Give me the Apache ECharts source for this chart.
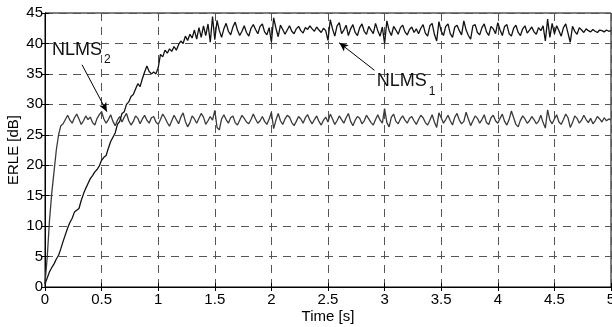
<!DOCTYPE html>
<html><head><meta charset="utf-8">
<script src="https://cdn.jsdelivr.net/npm/echarts@6/dist/echarts.min.js"></script>
<style>html,body{margin:0;padding:0;background:#fff}#c{width:612px;height:327px}</style>
</head><body><div id="c"></div>
<script>
// sampling step of both curves (seconds)
const dt = 0.02;
const xTicks = [0, 0.5, 1, 1.5, 2, 2.5, 3, 3.5, 4, 4.5, 5];
const yTicks = [0, 5, 10, 15, 20, 25, 30, 35, 40, 45];

// NLMS1 ERLE [dB], t = 0 .. 1.50
const nlms1Ramp = [0.5,1.5,2.5,3.2,3.8,4.6,5.2,6.3,7.5,8.6,
  9.7,10.6,11.3,12.3,12.6,12.9,14.2,15.3,16.2,17.0,
  17.8,18.3,18.9,19.3,19.9,20.8,21.3,21.6,22.8,23.9,
  24.6,25.3,26.7,27.2,28.5,28.8,30.0,30.4,31.3,31.6,
  32.5,33.4,32.9,34.2,35.3,36.3,35.4,35.0,35.3,35.0,
  36.0,38.2,37.8,38.9,38.4,39.1,38.7,39.5,38.9,39.8,
  40.4,40.0,41.2,40.5,41.5,40.9,42.2,40.7,42.6,41.0,
  42.9,41.3,43.2,40.2,44.4,40.6];
// NLMS1 ERLE [dB], t = 1.52 .. 5.00
const nlms1Steady = [
  43.8,42.1,41.0,42.4,43.3,42.0,41.4,42.7,43.5,42.2,41.3,42.0,42.9,41.8,41.2,42.5,43.1,42.3,41.6,42.8,43.2,41.9,41.4,42.6,
  40.2,44.2,42.5,41.1,43.0,42.3,41.5,42.2,42.9,42.0,41.6,42.4,42.8,42.1,41.7,42.6,42.3,42.9,42.4,42.0,42.7,42.2,41.8,42.5,42.1,
  40.5,43.9,42.4,41.2,42.9,43.4,41.6,42.2,43.0,41.3,42.4,43.1,41.8,41.3,42.6,43.2,42.0,41.5,42.8,42.2,41.6,43.3,42.1,41.2,42.7,
  40.0,43.7,42.1,41.3,42.8,42.2,41.5,42.6,43.0,41.9,41.4,42.3,42.7,41.8,42.4,41.6,42.5,43.1,41.7,41.2,42.9,43.3,41.5,40.4,43.6,
  42.0,41.3,42.8,43.2,41.6,41.0,42.7,43.0,42.1,41.4,43.7,42.2,41.3,40.7,42.9,43.1,41.8,41.4,42.6,43.2,41.9,41.3,42.8,42.4,41.6,
  43.4,42.2,41.3,42.8,43.1,41.6,41.2,42.5,43.0,41.8,41.3,42.4,42.9,41.7,42.2,42.7,41.9,41.5,42.6,42.1,42.9,40.4,44.0,41.0,43.3,
  41.6,42.9,42.1,41.2,42.6,43.2,41.7,40.2,42.8,42.0,41.5,42.6,42.2,41.8,42.4,42.1,41.9,42.3,42.0,41.8,42.2,42.1,41.9,42.2,42.0,42.1];

// NLMS2 ERLE [dB], t = 0 .. 0.14
const nlms2Ramp = [0.5,5.0,11.0,15.5,19.0,22.5,25.0,26.5];
// NLMS2 ERLE [dB], t = 0.16 .. 5.00
const nlms2Steady = [
  26.8,27.5,28.2,27.4,26.9,27.8,28.4,27.6,26.7,27.3,28.1,27.5,27.9,27.0,26.6,27.7,28.3,
  28.8,27.6,26.9,27.5,28.3,27.2,26.5,27.4,28.0,27.1,27.9,28.5,27.3,26.6,27.2,28.1,27.7,26.8,27.6,28.2,27.4,26.9,27.8,28.0,27.1,
  26.7,27.5,28.4,27.8,27.0,26.4,27.3,28.2,27.5,26.8,27.9,28.6,27.2,26.3,27.0,28.1,27.6,26.9,27.7,28.5,27.9,26.7,27.3,28.0,27.4,
  29.0,26.2,25.8,27.6,28.3,27.5,26.9,27.8,28.1,27.0,26.6,27.4,28.2,27.7,27.1,26.8,27.5,28.4,27.6,26.9,27.3,28.0,27.2,26.7,27.6,
  28.7,26.0,27.4,28.5,27.3,26.7,27.6,28.2,27.9,27.0,26.5,27.2,28.0,27.6,26.9,27.8,28.3,27.4,26.8,27.5,28.1,27.2,26.6,27.4,27.9,
  27.1,28.4,27.6,26.7,27.3,28.1,27.5,26.9,27.8,28.5,27.2,26.5,27.4,28.0,27.7,26.8,27.3,28.2,27.6,27.0,26.6,27.5,28.3,27.4,26.9,
  29.3,27.0,26.3,27.9,28.4,27.2,26.8,27.6,28.1,27.4,26.9,27.7,28.0,27.3,26.7,27.5,28.2,27.8,27.0,26.6,27.4,28.3,27.1,26.2,28.6,
  27.8,26.9,27.5,28.2,27.3,26.6,27.9,28.5,27.4,26.8,27.2,28.7,27.6,26.5,27.3,28.1,27.7,26.9,27.5,28.3,27.0,26.7,27.8,28.2,27.3,
  26.9,27.7,28.4,27.2,26.6,27.5,28.9,27.8,26.7,26.3,27.4,28.1,27.6,26.9,27.3,28.0,27.5,26.8,27.2,28.2,27.0,26.1,29.1,27.4,26.8,
  27.6,28.3,27.1,26.7,27.5,28.4,27.8,26.2,27.0,28.1,27.7,26.9,27.4,28.2,27.5,27.0,27.7,26.8,27.3,28.0,27.6,27.1,27.8,27.3,27.6,27.4];

// annotation anchor points in data units [t, dB]
const label2At = [0.062, 37.5], arrow2 = [[0.327, 36.5], [0.547, 28.8]];
const label1At = [2.93, 32.3], arrow1 = [[2.91, 35.6], [2.60, 40.1]];

function toPairs(vals) { return vals.map((v, i) => [+(i * dt).toFixed(2), v]); }
const s1 = toPairs(nlms1Ramp.concat(nlms1Steady));
const s2 = toPairs(nlms2Ramp.concat(nlms2Steady));

const FONT = 'Liberation Sans, Arial, Helvetica, sans-serif';
const chart = echarts.init(document.getElementById('c'), null, {renderer: 'canvas'});
const gridDash = {color: '#555', type: [8, 6], width: 1};
const baseX = {type: 'value', min: 0, max: 5, interval: 0.5};
const baseY = {type: 'value', min: 0, max: 45, interval: 5};

function arrowLine(a) {
  return [{coord: a[0], symbol: 'none'}, {coord: a[1], symbol: 'arrow', symbolSize: [6, 9]}];
}

chart.setOption({
  animation: false,
  backgroundColor: '#fff',
  grid: {left: 45, right: 1, top: 13, bottom: 40, containLabel: false, outerBoundsMode: 'none',
    show: true, borderColor: '#000', borderWidth: 1},
  xAxis: [
    Object.assign({}, baseX, {
      position: 'bottom',
      name: 'Time [s]', nameLocation: 'middle', nameGap: 22, nameMoveOverlap: false,
      nameTextStyle: {fontFamily: FONT, fontSize: 15, color: '#000'},
      axisLine: {lineStyle: {color: '#000'}},
      axisTick: {inside: true, length: 4, lineStyle: {color: '#000'}},
      axisLabel: {fontFamily: FONT, fontSize: 15, color: '#000', margin: 5,
        formatter: v => String(v)},
      splitLine: {show: true, lineStyle: gridDash}
    }),
    Object.assign({}, baseX, {
      position: 'top', axisLine: {lineStyle: {color: '#000'}},
      axisTick: {inside: true, length: 4, lineStyle: {color: '#000'}},
      axisLabel: {show: false}, splitLine: {show: false}
    })
  ],
  yAxis: [
    Object.assign({}, baseY, {
      position: 'left',
      name: 'ERLE [dB]', nameLocation: 'middle', nameGap: 24, nameRotate: 90, nameMoveOverlap: false,
      nameTextStyle: {fontFamily: FONT, fontSize: 15, color: '#000'},
      axisLine: {lineStyle: {color: '#000'}},
      axisTick: {inside: true, length: 4, lineStyle: {color: '#000'}},
      axisLabel: {fontFamily: FONT, fontSize: 15, color: '#000', margin: 2},
      splitLine: {show: true, lineStyle: gridDash}
    }),
    Object.assign({}, baseY, {
      position: 'right', axisLine: {lineStyle: {color: '#000'}},
      axisTick: {inside: true, length: 4, lineStyle: {color: '#000'}},
      axisLabel: {show: false}, splitLine: {show: false}
    })
  ],
  series: [
    {
      name: 'NLMS1', type: 'line', data: s1, showSymbol: false, symbol: 'none',
      lineStyle: {color: '#111', width: 1.3}, z: 3,
      markLine: {silent: true, animation: false, label: {show: false},
        lineStyle: {color: '#000', width: 1, type: 'solid'},
        data: [arrowLine(arrow1)]}
    },
    {
      name: 'NLMS2', type: 'line', data: s2, showSymbol: false, symbol: 'none',
      lineStyle: {color: '#3a3a3a', width: 1.3}, z: 2,
      markLine: {silent: true, animation: false, label: {show: false},
        lineStyle: {color: '#000', width: 1, type: 'solid'},
        data: [arrowLine(arrow2)]}
    }
  ]
});

function textAt(pt, main, sub) {
  const p = chart.convertToPixel({gridIndex: 0}, pt);
  return [
    {type: 'text', x: p[0], y: p[1], z: 10,
      style: {text: main, font: '18px ' + FONT, fill: '#111', textAlign: 'left', textVerticalAlign: 'bottom'}},
    {type: 'text', x: p[0] + 52, y: p[1] + 7, z: 10,
      style: {text: sub, font: '12px ' + FONT, fill: '#111', textAlign: 'left', textVerticalAlign: 'bottom'}}
  ];
}
chart.setOption({graphic: textAt(label2At, 'NLMS', '2').concat(textAt(label1At, 'NLMS', '1'))});
</script>
</body></html>
